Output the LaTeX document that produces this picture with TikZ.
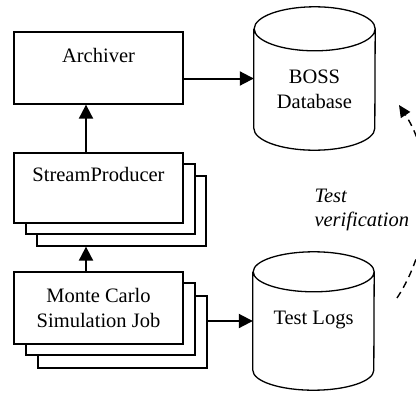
\documentclass[tikz,border=0pt]{standalone}
\usepackage{fontspec}
\setmainfont{Liberation Serif}
\usetikzlibrary{shadows,arrows.meta}

\tikzset{
		jobbox/.style  = {shape=rectangle, draw, fill=white, line width=1.3pt,
				minimum width=169pt, inner sep=0pt, align=center},
		topbox/.style  = {jobbox, text height=30pt, text depth=42pt},
		stackbox/.style = {copy shadow={shadow xshift=#1, shadow yshift=-#1},
				copy shadow={shadow xshift=12pt, shadow yshift=-11pt}},
		store/.style   = {shape=rectangle, minimum width=121pt, inner sep=0pt, align=center},
		conn/.style    = {line width=2pt, -{Triangle[length=14pt,width=14pt]}},
		check/.style   = {line width=1.4pt, dash pattern=on 7pt off 5pt,
				-{Triangle[length=12pt,width=11pt]}}
	}

\newcommand\drawstore[2]{%
	\draw [line width=1.3pt] ([yshift=-#2]#1.north west) -- ([yshift=#2]#1.south west)
		arc [start angle=180, end angle=360, x radius=60.5pt, y radius=#2]
		-- ([yshift=-#2]#1.north east)
		arc [start angle=0, end angle=360, x radius=60.5pt, y radius=#2];
}

\begin{document}
\begin{tikzpicture}
				[x=1pt, y=-1pt,
					every node/.style = {font=\fontsize{20.5}{24.5}\selectfont},
				]
				\clip (0,0) rectangle (416,392);
				\node [topbox] (archiver) at (98.5,68) {Archiver};
				\node [topbox, text height=28pt, stackbox=23pt] (streamer) at (98.5,188) {StreamProducer};
				\node [jobbox, minimum height=72pt, stackbox=24pt] (mcjob) at (98.5,308) {Monte Carlo\\Simulation Job};
				\node [store, text height=101pt, text depth=42pt] (boss) at (314.5,78.5) {BOSS\\Database};
				\node [store, text height=72pt, text depth=66pt] (logs) at (313.5,321) {Test Logs};
				\drawstore{boss}{22pt}
				\drawstore{logs}{20pt}
				\node [anchor=west, align=left, font=\fontsize{20.5}{24.5}\selectfont\itshape] (verif) at (311,210) {Test\\verification};
				\coordinate (logsout) at (397,298);
				\coordinate (bossin) at (399,105);
				\draw [conn] (archiver.east |- boss.west) -- (boss.west);
				\draw [conn] ([xshift=-12.5pt]streamer.north) -- ([xshift=-12.5pt]archiver.south);
				\draw [conn] ([xshift=-12.5pt]mcjob.north) -- ([xshift=-12.5pt,yshift=-23pt]streamer.south);
				\draw [conn] ([xshift=23pt]mcjob.east |- logs.west) -- (logs.west);
				\draw [check] (logsout) .. controls (435,240) and (435,160) .. (bossin);
			\end{tikzpicture}
\end{document}
